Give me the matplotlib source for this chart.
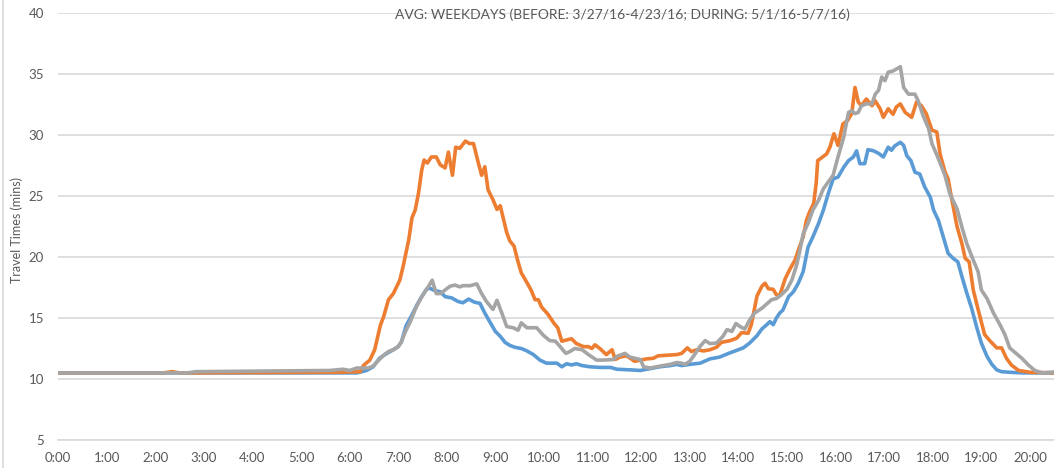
import matplotlib
matplotlib.use('Agg')
import matplotlib.pyplot as plt
from matplotlib.lines import Line2D

# minutes since midnight, travel time in minutes
blue_t = [0, 150, 300, 336, 369, 381, 389, 397, 406, 414, 420, 424, 430, 437, 443, 449, 455, 459, 465, 472,
          478, 486, 494, 500, 507, 514, 521, 527, 533, 540, 546, 552, 558, 564, 572, 579, 587, 595, 603, 616,
          622, 628, 634, 640, 647, 657, 669, 682, 690, 706, 719, 731, 743, 756, 764, 770, 780, 793, 805, 817,
          828, 838, 846, 854, 863, 869, 875, 879, 883, 887, 891, 895, 902, 908, 914, 920, 926, 932, 939, 945,
          951, 957, 963, 970, 976, 982, 986, 990, 996, 1000, 1007, 1013, 1019, 1025, 1029, 1033, 1040, 1044, 1048, 1053,
          1058, 1064, 1070, 1077, 1081, 1087, 1093, 1099, 1105, 1111, 1116, 1122, 1128, 1134, 1140, 1147, 1153, 1159, 1165, 1175,
          1192, 1235]
blue_v = [10.5, 10.5, 10.5, 10.5, 10.5, 10.7, 11.0, 11.7, 12.1, 12.4, 12.65, 13.05, 14.4, 15.25, 16.05, 16.75, 17.35, 17.45, 17.25, 17.15,
          16.75, 16.65, 16.35, 16.25, 16.55, 16.3, 16.2, 15.4, 14.7, 13.9, 13.5, 13.0, 12.75, 12.6, 12.5, 12.3, 12.0, 11.55, 11.3, 11.3,
          11.0, 11.25, 11.15, 11.25, 11.1, 11.0, 10.95, 10.95, 10.8, 10.75, 10.7, 10.85, 11.0, 11.1, 11.2, 11.1, 11.2, 11.3, 11.65, 11.8,
          12.1, 12.35, 12.55, 12.95, 13.55, 14.1, 14.45, 14.7, 14.45, 15.0, 15.4, 15.65, 16.75, 17.15, 17.85, 18.8, 20.8, 21.65, 22.75, 23.85,
          25.2, 26.4, 26.55, 27.35, 27.9, 28.2, 28.7, 27.65, 27.65, 28.8, 28.7, 28.5, 28.2, 29.0, 28.75, 29.1, 29.4, 29.15, 28.3, 27.9,
          26.95, 26.8, 25.75, 24.9, 23.85, 23.0, 21.65, 20.3, 19.9, 19.6, 18.4, 17.05, 15.8, 14.3, 12.95, 11.85, 11.2, 10.75, 10.6, 10.55,
          10.5, 10.5]

orange_t = [0, 130, 141, 150, 336, 373, 377, 385, 391, 398, 402, 408, 414, 422, 426, 433, 437, 441, 445, 449,
            452, 456, 461, 467, 472, 478, 482, 487, 491, 496, 503, 508, 513, 519, 523, 527, 531, 537, 542, 546,
            550, 554, 558, 563, 568, 572, 579, 584, 589, 593, 597, 605, 612, 617, 622, 628, 634, 640, 649, 655,
            659, 663, 669, 677, 684, 688, 694, 702, 712, 719, 727, 735, 741, 752, 764, 770, 777, 782, 789, 797,
            805, 813, 819, 830, 838, 844, 852, 856, 863, 869, 873, 877, 883, 887, 891, 898, 904, 910, 914, 920,
            924, 928, 933, 936, 938, 943, 949, 953, 958, 963, 969, 975, 980, 984, 988, 992, 998, 1005, 1009, 1015,
            1019, 1025, 1031, 1035, 1040, 1046, 1054, 1060, 1066, 1072, 1079, 1085, 1089, 1095, 1099, 1103, 1110, 1116, 1120, 1125,
            1130, 1136, 1144, 1151, 1159, 1165, 1171, 1177, 1186, 1200, 1235]
orange_v = [10.5, 10.5, 10.6, 10.5, 10.55, 10.6, 11.1, 11.55, 12.4, 14.4, 15.1, 16.5, 17.0, 18.1, 19.2, 21.4, 23.2, 23.85, 25.2, 27.1,
            27.95, 27.7, 28.2, 28.2, 27.55, 27.3, 28.6, 26.7, 29.0, 28.9, 29.5, 29.3, 29.3, 27.7, 26.7, 27.4, 25.5, 24.7, 23.9, 24.2,
            23.1, 22.0, 21.3, 20.9, 19.6, 18.7, 17.9, 17.3, 16.5, 16.5, 15.9, 15.3, 14.6, 14.2, 13.1, 13.2, 13.3, 12.9, 12.65, 12.65,
            12.5, 12.8, 12.5, 12.0, 12.4, 11.6, 11.8, 11.9, 11.45, 11.55, 11.65, 11.7, 11.9, 11.95, 12.0, 12.1, 12.55, 12.25, 12.4, 12.3,
            12.4, 12.6, 13.0, 13.15, 13.35, 13.8, 13.75, 14.45, 16.8, 17.6, 17.85, 17.4, 17.35, 16.9, 16.85, 18.25, 19.05, 19.75, 20.55, 21.65,
            23.0, 23.7, 24.4, 26.0, 27.9, 28.15, 28.45, 29.0, 30.1, 29.15, 30.9, 31.2, 31.75, 33.9, 32.7, 32.4, 32.95, 32.4, 32.8, 32.15,
            31.45, 32.15, 31.7, 32.3, 32.55, 31.85, 31.45, 32.7, 32.4, 31.75, 30.4, 30.25, 28.45, 27.0, 26.4, 24.9, 22.5, 21.1, 19.9, 19.6,
            17.3, 15.7, 13.65, 13.1, 12.55, 12.55, 11.7, 11.15, 10.7, 10.55, 10.5]

gray_t = [0, 160, 170, 336, 352, 360, 369, 383, 389, 396, 402, 408, 414, 420, 424, 428, 435, 441, 447, 453,
          458, 462, 467, 472, 478, 484, 490, 496, 500, 509, 517, 523, 529, 537, 542, 548, 554, 562, 568, 572,
          579, 591, 599, 607, 614, 620, 627, 632, 638, 647, 655, 665, 673, 686, 690, 700, 706, 712, 719, 723,
          731, 739, 747, 756, 764, 770, 774, 780, 786, 793, 799, 805, 813, 821, 826, 832, 837, 842, 848, 854,
          860, 869, 875, 881, 887, 893, 900, 906, 912, 916, 920, 926, 932, 939, 945, 951, 957, 963, 970, 976,
          980, 984, 988, 992, 998, 1005, 1009, 1013, 1017, 1021, 1025, 1031, 1035, 1040, 1044, 1050, 1058, 1062, 1068, 1075,
          1079, 1087, 1095, 1101, 1110, 1116, 1122, 1130, 1136, 1140, 1147, 1155, 1163, 1169, 1175, 1182, 1190, 1198, 1206, 1215,
          1235]
gray_v = [10.5, 10.5, 10.6, 10.7, 10.8, 10.7, 10.9, 10.9, 11.05, 11.55, 11.95, 12.25, 12.4, 12.65, 13.05, 13.75, 14.7, 15.7, 16.5, 17.15,
          17.65, 18.1, 17.0, 17.0, 17.3, 17.6, 17.7, 17.55, 17.65, 17.65, 17.8, 17.0, 16.35, 15.7, 16.45, 15.4, 14.3, 14.2, 14.0, 14.6,
          14.2, 14.2, 13.6, 13.15, 13.1, 12.65, 12.1, 12.25, 12.5, 12.4, 12.0, 11.55, 11.55, 11.6, 11.85, 12.1, 11.8, 11.7, 11.6, 11.0,
          10.9, 11.0, 11.1, 11.2, 11.35, 11.3, 11.2, 11.45, 12.0, 12.7, 13.15, 12.9, 12.95, 13.5, 14.05, 13.9, 14.55, 14.3, 14.1, 14.85,
          15.4, 15.8, 16.15, 16.5, 16.6, 16.9, 17.35, 18.1, 19.35, 20.55, 21.9, 22.75, 23.85, 24.65, 25.6, 26.15, 26.7, 28.2, 29.8, 31.85,
          32.0, 31.75, 31.85, 32.4, 32.55, 32.55, 33.35, 33.65, 34.75, 34.45, 35.15, 35.25, 35.4, 35.6, 33.9, 33.35, 33.35, 32.8, 31.6, 30.5,
          29.3, 28.05, 26.7, 25.2, 23.95, 22.45, 21.1, 19.75, 18.8, 17.3, 16.6, 15.4, 14.45, 13.65, 12.55, 12.15, 11.7, 11.15, 10.7, 10.5,
          10.6]

hour_ticks = list(range(0, 1201, 60))
hour_labels = ['%d:00' % (m // 60) for m in hour_ticks]
y_ticks = [5, 10, 15, 20, 25, 30, 35, 40]

title = 'AVG: WEEKDAYS (BEFORE: 3/27/16-4/23/16; DURING: 5/1/16-5/7/16)'

plt.rcParams['font.family'] = ['Lato', 'DejaVu Sans']
text_color = '#595959'
grid_color = '#d9d9d9'

fig = plt.figure(figsize=(10.54, 4.68), dpi=100)
ax = fig.add_axes([58 / 1054, 28 / 468, 996 / 1054, 427 / 468])

for t, v, c in [(blue_t, blue_v, '#5b9bd5'), (orange_t, orange_v, '#ed7d31'), (gray_t, gray_v, '#a5a5a5')]:
    ax.plot(t, v, color=c, lw=2.6, solid_joinstyle='round', solid_capstyle='round')

ax.set_xlim(0, 1229.7)
ax.set_ylim(5, 40)
ax.set_yticks(y_ticks)
ax.set_xticks(hour_ticks)
ax.set_xticklabels(hour_labels)
ax.grid(axis='y', color=grid_color, lw=1.2)
ax.grid(axis='x', visible=False)
ax.set_axisbelow(True)
for name, s in ax.spines.items():
    s.set_visible(name == 'bottom')
ax.spines['bottom'].set_color(grid_color)
ax.spines['bottom'].set_linewidth(1.2)
ax.tick_params(length=0, colors=text_color, labelsize=9.5)
ax.tick_params(axis='y', pad=10)
ax.tick_params(axis='x', pad=9)

fig.text(17 / 1054, 1 - 230 / 468, 'Travel Times (mins)', rotation=90, ha='center', va='center',
         color=text_color, fontsize=9)
fig.text(622 / 1054, 1 - 15 / 468, title, ha='center', va='center', color=text_color, fontsize=10)

# chart border on the left
fig.add_artist(Line2D([3 / 1054, 3 / 1054], [0, 1], transform=fig.transFigure, color=grid_color, lw=1.2))

fig.savefig('out.png', dpi=100)
